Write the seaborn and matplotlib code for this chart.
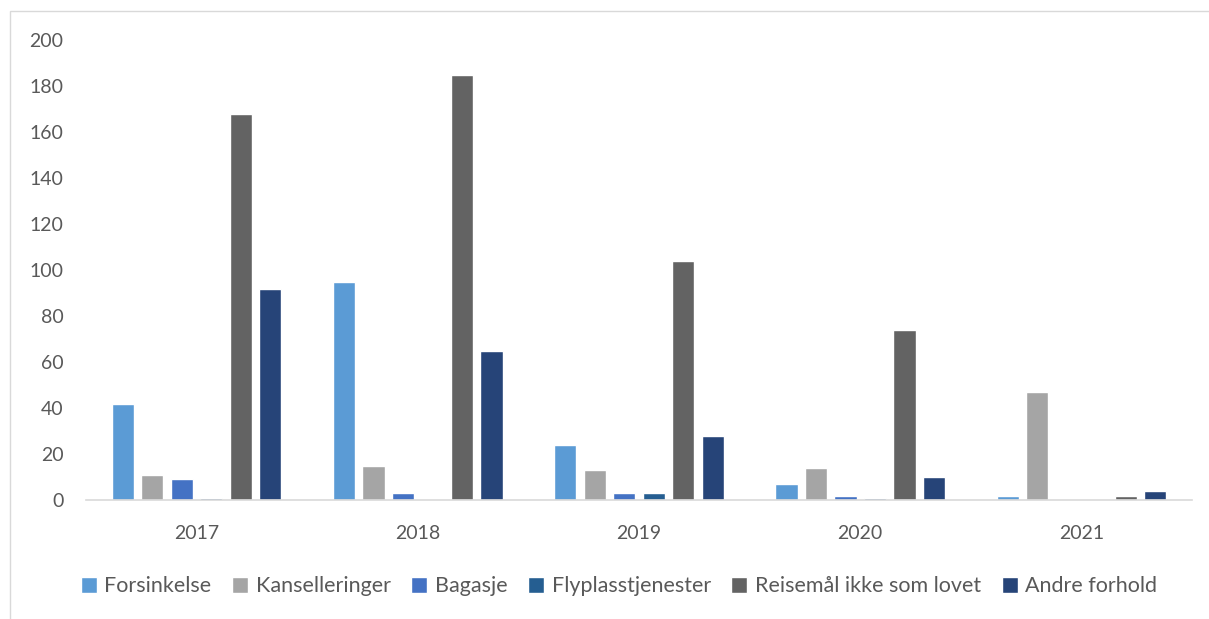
import pandas as pd
import matplotlib.pyplot as plt
import seaborn as sns
from matplotlib.patches import Rectangle

years = ["2017", "2018", "2019", "2020", "2021"]
categories = ["Forsinkelse", "Kanselleringer", "Bagasje", "Flyplasstjenester",
              "Reisemål ikke som lovet", "Andre forhold"]
forsinkelse = [42, 95, 24, 7, 2]
kanselleringer = [11, 15, 13, 14, 47]
bagasje = [9, 3, 3, 2, 0]
flyplasstjenester = [1, 0, 3, 1, 0]
reisemal = [168, 185, 104, 74, 2]
andre = [92, 65, 28, 10, 4]
colors = ["#5B9BD5", "#A5A5A5", "#4472C4", "#255E91", "#636363", "#264478"]

series = [forsinkelse, kanselleringer, bagasje, flyplasstjenester, reisemal, andre]
rows = []
for cat, vals in zip(categories, series):
    for y, v in zip(years, vals):
        rows.append({"År": y, "Antall": v, "Kategori": cat})
df = pd.DataFrame(rows)

sns.set_theme(style="white")
plt.rcParams['font.family'] = ['Lato', 'DejaVu Sans']

fig = plt.figure(figsize=(12.09, 6.19), dpi=100)
ax = fig.add_axes([0.071, 0.192, 0.915, 0.743])

sns.barplot(data=df, x="År", y="Antall", hue="Kategori", palette=colors,
            width=0.8, gap=0.25, ax=ax, saturation=1)

ax.set_ylim(0, 200)
ax.set_yticks(range(0, 201, 20))
ax.set_xlabel("")
ax.set_ylabel("")
ax.tick_params(axis='y', labelsize=14, colors="#595959", length=0, pad=16)
ax.tick_params(axis='x', labelsize=14, colors="#595959", length=0, pad=18)
for s in ["left", "right", "top"]:
    ax.spines[s].set_visible(False)
ax.spines["bottom"].set_color("#D9D9D9")
ax.spines["bottom"].set_linewidth(1.2)

handles, labels = ax.get_legend_handles_labels()
ax.legend_.remove()
fig.legend(handles, labels, loc="center", bbox_to_anchor=(0.512, 0.053), ncol=6,
           frameon=False, fontsize=15.5, handlelength=0.75, handleheight=0.75,
           handletextpad=0.35, columnspacing=0.95, labelcolor="#595959")

fig.patches.append(Rectangle((10 / 1209, -0.01), 1.1, 1 - 11 / 619 + 0.01,
                             transform=fig.transFigure, fill=False,
                             edgecolor="#D9D9D9", linewidth=1))

fig.savefig("out.png", dpi=100)
